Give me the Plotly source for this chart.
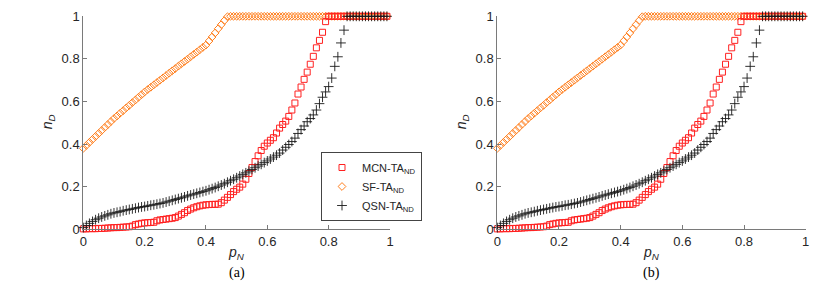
import plotly.graph_objects as go

p_N = [0.00, 0.01, 0.02, 0.03, 0.04, 0.05, 0.06, 0.07, 0.08, 0.09,
       0.10, 0.11, 0.12, 0.13, 0.14, 0.15, 0.16, 0.17, 0.18, 0.19,
       0.20, 0.21, 0.22, 0.23, 0.24, 0.25, 0.26, 0.27, 0.28, 0.29,
       0.30, 0.31, 0.32, 0.33, 0.34, 0.35, 0.36, 0.37, 0.38, 0.39,
       0.40, 0.41, 0.42, 0.43, 0.44, 0.45, 0.46, 0.47, 0.48, 0.49,
       0.50, 0.51, 0.52, 0.53, 0.54, 0.55, 0.56, 0.57, 0.58, 0.59,
       0.60, 0.61, 0.62, 0.63, 0.64, 0.65, 0.66, 0.67, 0.68, 0.69,
       0.70, 0.71, 0.72, 0.73, 0.74, 0.75, 0.76, 0.77, 0.78, 0.79,
       0.80, 0.81, 0.82, 0.83, 0.84, 0.85, 0.86, 0.87, 0.88, 0.89,
       0.90, 0.91, 0.92, 0.93, 0.94, 0.95, 0.96, 0.97, 0.98, 0.99]

mcn_ta_nd = [0.002, 0.002, 0.003, 0.003, 0.003, 0.004, 0.004, 0.005, 0.006, 0.007,
             0.008, 0.008, 0.009, 0.010, 0.011, 0.012, 0.015, 0.022, 0.025, 0.028,
             0.030, 0.031, 0.032, 0.033, 0.040, 0.044, 0.046, 0.048, 0.050, 0.052,
             0.055, 0.062, 0.070, 0.078, 0.088, 0.095, 0.101, 0.106, 0.110, 0.113,
             0.115, 0.116, 0.117, 0.117, 0.118, 0.125, 0.137, 0.150, 0.163, 0.177,
             0.188, 0.198, 0.212, 0.235, 0.262, 0.290, 0.318, 0.345, 0.370, 0.390,
             0.405, 0.418, 0.430, 0.452, 0.475, 0.492, 0.508, 0.530, 0.560, 0.593,
             0.635, 0.668, 0.704, 0.738, 0.775, 0.812, 0.852, 0.887, 0.925, 0.975,
             1.0, 1.0, 1.0, 1.0, 1.0, 1.0, 1.0, 1.0, 1.0, 1.0,
             1.0, 1.0, 1.0, 1.0, 1.0, 1.0, 1.0, 1.0, 1.0, 1.0]

sf_ta_nd = [0.380, 0.394, 0.408, 0.422, 0.436, 0.450, 0.464, 0.478, 0.492, 0.506,
            0.520, 0.532, 0.545, 0.557, 0.570, 0.582, 0.595, 0.607, 0.620, 0.632,
            0.645, 0.656, 0.667, 0.678, 0.689, 0.700, 0.711, 0.722, 0.733, 0.744,
            0.755, 0.766, 0.777, 0.788, 0.799, 0.810, 0.821, 0.832, 0.843, 0.854,
            0.865, 0.884, 0.903, 0.922, 0.942, 0.961, 0.980, 0.998, 1.0, 1.0,
            1.0, 1.0, 1.0, 1.0, 1.0, 1.0, 1.0, 1.0, 1.0, 1.0,
            1.0, 1.0, 1.0, 1.0, 1.0, 1.0, 1.0, 1.0, 1.0, 1.0,
            1.0, 1.0, 1.0, 1.0, 1.0, 1.0, 1.0, 1.0, 1.0, 1.0,
            1.0, 1.0, 1.0, 1.0, 1.0, 1.0, 1.0, 1.0, 1.0, 1.0,
            1.0, 1.0, 1.0, 1.0, 1.0, 1.0, 1.0, 1.0, 1.0, 1.0]

qsn_ta_nd = [0.008, 0.018, 0.028, 0.037, 0.045, 0.052, 0.058, 0.063, 0.068, 0.073,
             0.077, 0.080, 0.083, 0.087, 0.090, 0.093, 0.096, 0.099, 0.102, 0.105,
             0.107, 0.110, 0.113, 0.115, 0.118, 0.121, 0.124, 0.128, 0.132, 0.136,
             0.140, 0.144, 0.148, 0.152, 0.157, 0.161, 0.165, 0.169, 0.173, 0.177,
             0.181, 0.186, 0.191, 0.196, 0.202, 0.208, 0.214, 0.221, 0.228, 0.235,
             0.242, 0.250, 0.258, 0.265, 0.273, 0.281, 0.289, 0.297, 0.305, 0.313,
             0.321, 0.330, 0.339, 0.348, 0.358, 0.372, 0.385, 0.398, 0.412, 0.428,
             0.450, 0.468, 0.485, 0.505, 0.520, 0.537, 0.560, 0.590, 0.620, 0.645,
             0.670, 0.710, 0.765, 0.810, 0.875, 0.935, 1.0, 1.0, 1.0, 1.0,
             1.0, 1.0, 1.0, 1.0, 1.0, 1.0, 1.0, 1.0, 1.0, 1.0]

tick_vals = [0, 0.2, 0.4, 0.6, 0.8, 1]
tick_text = ["0", "0.2", "0.4", "0.6", "0.8", "1"]
names = ["MCN-TA<sub>ND</sub>", "SF-TA<sub>ND</sub>", "QSN-TA<sub>ND</sub>"]
panel_labels = ["(a)", "(b)"]

W, H, OFF = 830, 288, 8  # page body margin shifts the figure by 8 px


def px(xp):
    return (xp - OFF) / W


def py(yp):
    return (H - (yp - OFF)) / H


fig = go.Figure()

for k, (xa, ya) in enumerate([("x", "y"), ("x2", "y2")]):
    show = k == 0
    fig.add_trace(go.Scatter(
        x=p_N, y=sf_ta_nd, mode="markers", name=names[1], legendrank=2,
        xaxis=xa, yaxis=ya, showlegend=show, cliponaxis=False,
        marker=dict(symbol="diamond-open", size=6, color="#ff7f1e",
                    line=dict(width=1, color="#ff7f1e"))))
    fig.add_trace(go.Scatter(
        x=p_N, y=mcn_ta_nd, mode="markers", name=names[0], legendrank=1,
        xaxis=xa, yaxis=ya, showlegend=show, cliponaxis=False,
        marker=dict(symbol="square-open", size=6, color="#ff2020",
                    line=dict(width=1, color="#ff2020"))))
    fig.add_trace(go.Scatter(
        x=p_N, y=qsn_ta_nd, mode="markers", name=names[2], legendrank=3,
        xaxis=xa, yaxis=ya, showlegend=show, cliponaxis=False,
        marker=dict(symbol="cross-thin-open", size=7, color="#1a1a1a",
                    line=dict(width=0.9, color="#1a1a1a"))))

axis_common = dict(range=[0, 1], tickvals=tick_vals, ticktext=tick_text,
                   showline=True, linecolor="#7a7a7a", linewidth=1,
                   ticks="inside", ticklen=4, tickcolor="#7a7a7a",
                   showgrid=False, zeroline=False, automargin=False,
                   tickfont=dict(family="Liberation Sans", size=13, color="#262626"))

y_dom = [py(229.3), py(16.3)]
x_doms = [[px(83.3), px(390.0)], [px(497.3), px(805.7)]]

fig.update_layout(
    width=W, height=H,
    margin=dict(l=0, r=0, t=0, b=0, autoexpand=False),
    paper_bgcolor="white", plot_bgcolor="white",
    xaxis=dict(domain=x_doms[0], anchor="y", **axis_common),
    yaxis=dict(domain=y_dom, anchor="x", **axis_common),
    xaxis2=dict(domain=x_doms[1], anchor="y2", **axis_common),
    yaxis2=dict(domain=y_dom, anchor="x2", **axis_common),
    legend=dict(x=px(321), y=py(152), xanchor="left", yanchor="top",
                bgcolor="white", bordercolor="#444444", borderwidth=1,
                font=dict(family="Liberation Sans", size=11, color="#262626"),
                itemwidth=30, tracegroupgap=0),
    showlegend=True,
)

for k in range(2):
    cx = (x_doms[k][0] + x_doms[k][1]) / 2
    fig.add_annotation(xref="paper", yref="paper", x=cx, y=py(253),
                       xanchor="center", yanchor="middle",
                       text="<i>p</i><sub><i>N</i></sub>", showarrow=False,
                       font=dict(family="Liberation Sans", size=14, color="#262626"))
    fig.add_annotation(xref="paper", yref="paper", x=cx, y=py(273),
                       xanchor="center", yanchor="middle",
                       text=panel_labels[k], showarrow=False,
                       font=dict(family="Liberation Serif", size=14, color="#000000"))
    fig.add_annotation(xref="paper", yref="paper",
                       x=px(x_doms[k][0] * W + OFF - 35), y=py(122),
                       xanchor="center", yanchor="middle",
                       text="<i>n</i><sub><i>D</i></sub>", showarrow=False, textangle=-90,
                       font=dict(family="Liberation Sans", size=14, color="#262626"))

fig.write_html("out.html")
